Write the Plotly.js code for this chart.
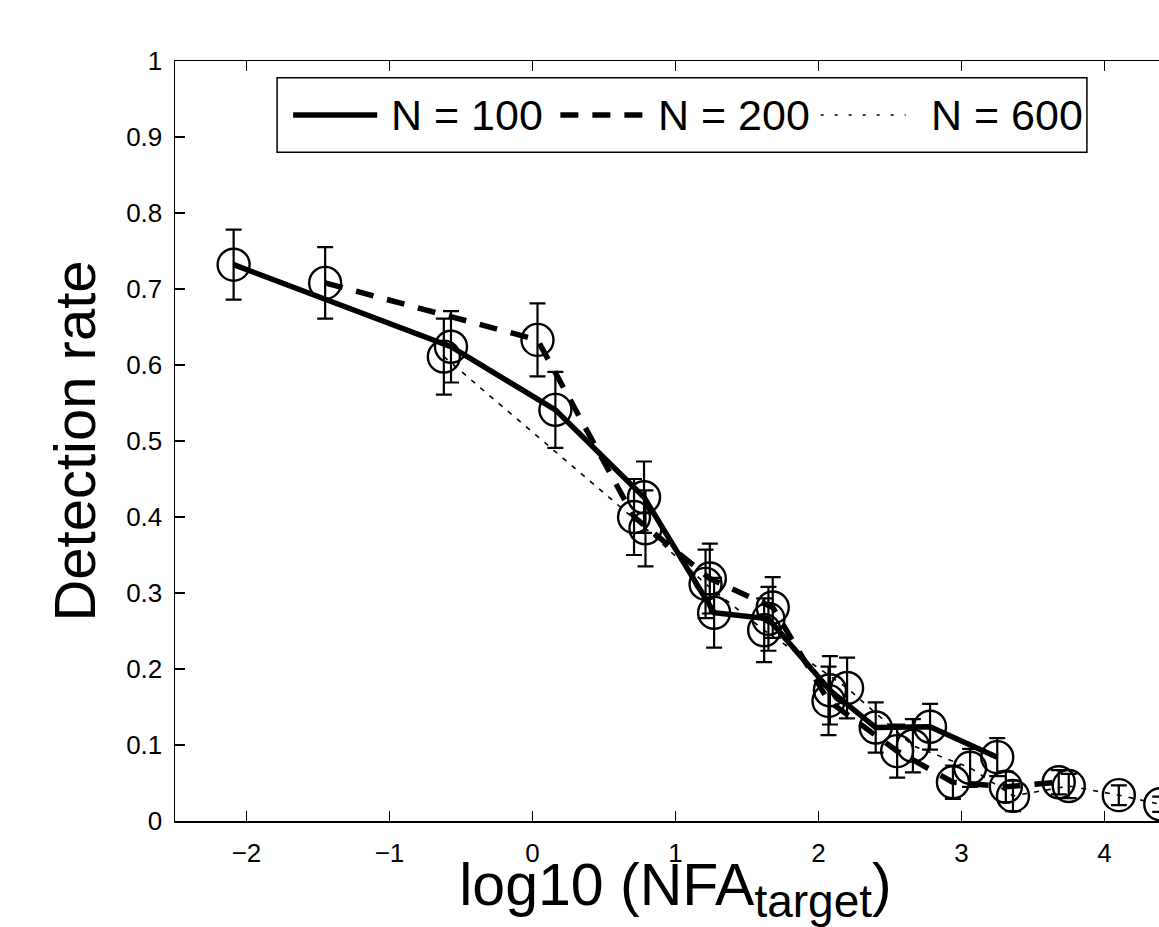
<!DOCTYPE html>
<html><head><meta charset="utf-8">
<script src="https://cdn.plot.ly/plotly-3.0.1.min.js"></script>
<style>html,body{margin:0;padding:0;overflow:hidden;background:#fff}#chart{width:1200px;height:927px}</style>
</head><body><div id="chart"></div>
<script>
// Series N = 100 (solid)
const x100 = [-2.09, -0.57, 0.16, 0.78, 1.27, 1.65, 2.08, 2.40, 2.78, 3.25];
const y100 = [0.732, 0.624, 0.541, 0.426, 0.274, 0.266, 0.172, 0.123, 0.124, 0.084];
const e100 = [0.046, 0.047, 0.050, 0.047, 0.046, 0.042, 0.045, 0.033, 0.030, 0.025];
// Series N = 200 (dashed)
const x200 = [-1.45, 0.035, 0.71, 1.24, 1.68, 2.07, 2.55, 2.94, 3.31, 3.68];
const y200 = [0.708, 0.633, 0.400, 0.319, 0.281, 0.158, 0.092, 0.051, 0.045, 0.051];
const e200 = [0.047, 0.048, 0.050, 0.046, 0.040, 0.045, 0.035, 0.022, 0.020, 0.016];
// Series N = 600 (dotted)
const x600 = [-0.62, 0.79, 1.21, 1.62, 2.20, 2.66, 3.06, 3.36, 3.75, 4.10, 4.39];
const y600 = [0.611, 0.385, 0.312, 0.251, 0.175, 0.099, 0.070, 0.033, 0.046, 0.034, 0.022];
const e600 = [0.050, 0.050, 0.045, 0.042, 0.040, 0.035, 0.025, 0.020, 0.016, 0.013, 0.010];

const seriesNames = ['N = 100', 'N = 200', 'N = 600'];
const xTicks = [-2, -1, 0, 1, 2, 3, 4];
const yTicks = [0, 0.1, 0.2, 0.3, 0.4, 0.5, 0.6, 0.7, 0.8, 0.9, 1];
const yTickText = ['0', '0.1', '0.2', '0.3', '0.4', '0.5', '0.6', '0.7', '0.8', '0.9', '1'];

const FONT = 'Liberation Sans, Arial, Helvetica, sans-serif';
const styles = [
  {width: 5.5, dash: 'solid'},
  {width: 5.5, dash: '18px,14px'},
  {width: 1.6, dash: '5px,7px'}
];
const xs = [x100, x200, x600], ys = [y100, y200, y600], es = [e100, e200, e600];

const traces = seriesNames.map((name, i) => ({
  type: 'scatter', mode: 'lines+markers', name: name,
  x: xs[i], y: ys[i],
  line: {color: '#000', width: styles[i].width, dash: styles[i].dash},
  marker: {symbol: 'circle-open', size: 32, color: '#000', line: {width: 2.4, color: '#000'}},
  error_y: {type: 'data', array: es[i], visible: true, color: '#000', thickness: 2.2, width: 8},
  showlegend: false
}));

// custom legend (box, line samples, labels)
const legY = 0.929;
const legSamples = [[0.118, 0.202], [0.385, 0.469], [0.645, 0.730]];
const legTextX = [0.214, 0.481, 0.753];
const legStyles = [
  {width: 5.5, dash: 'solid'},
  {width: 5.5, dash: '18px,14px'},
  {width: 1.6, dash: '3px,11px'}
];
const shapes = [{type: 'rect', xref: 'paper', yref: 'paper', x0: 0.102, x1: 0.911, y0: 0.880, y1: 0.978,
  line: {color: '#000', width: 1.5}, fillcolor: '#fff', layer: 'above'}];
legSamples.forEach((s, i) => shapes.push({type: 'line', xref: 'paper', yref: 'paper', x0: s[0], x1: s[1], y0: legY, y1: legY,
  line: {color: '#000', width: legStyles[i].width, dash: legStyles[i].dash}, layer: 'above'}));
const annotations = seriesNames.map((name, i) => ({xref: 'paper', yref: 'paper', x: legTextX[i], y: legY,
  xanchor: 'left', yanchor: 'middle', text: name, showarrow: false, font: {family: FONT, size: 43, color: '#000'}}));

const layout = {
  width: 1200, height: 927,
  margin: {l: 175, r: 24, t: 61, b: 106},
  paper_bgcolor: '#fff', plot_bgcolor: '#fff',
  font: {family: FONT, color: '#000'},
  showlegend: false,
  xaxis: {
    range: [-2.5, 4.5], tickvals: xTicks, ticks: 'inside', ticklen: 10, tickwidth: 1.5, tickcolor: '#000',
    showline: true, linecolor: '#000', linewidth: 1.5, mirror: 'ticks', showgrid: false, zeroline: false,
    tickfont: {family: FONT, size: 26, color: '#000'}, ticklabelstandoff: 8,
    title: {text: 'log10 (NFA<sub><span style="font-size:46px">target</span></sub>)', font: {family: FONT, size: 59, color: '#000'}, standoff: 13}
  },
  yaxis: {
    range: [0, 1], tickvals: yTicks, ticktext: yTickText, ticks: 'inside', ticklen: 10, tickwidth: 1.5, tickcolor: '#000',
    showline: true, linecolor: '#000', linewidth: 1.5, mirror: 'ticks', showgrid: false, zeroline: false,
    tickfont: {family: FONT, size: 26, color: '#000'}, ticklabelstandoff: 6,
    title: {text: 'Detection rate', font: {family: FONT, size: 58, color: '#000'}, standoff: 12}
  },
  shapes: shapes,
  annotations: annotations
};
Plotly.newPlot('chart', traces, layout, {displayModeBar: false, staticPlot: true});
</script></body></html>
